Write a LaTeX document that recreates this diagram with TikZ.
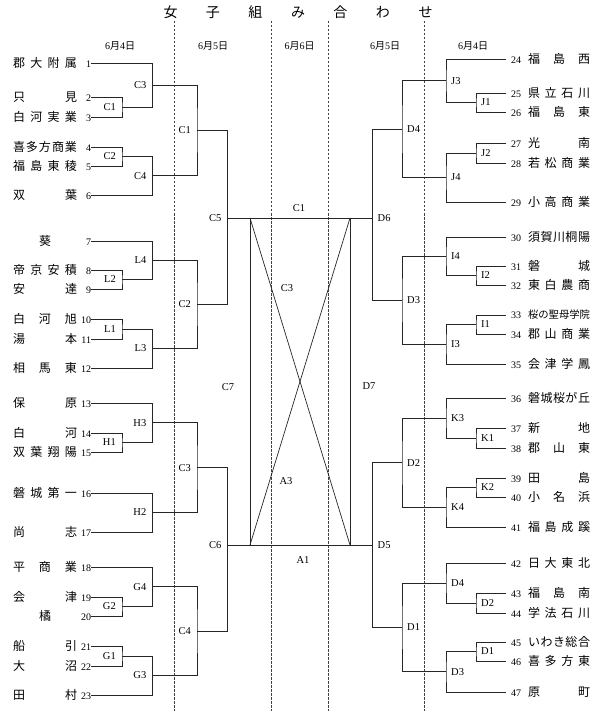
\documentclass[tikz,border=0pt]{standalone}
\usepackage{fontspec}
\usepackage{graphicx}
\setmainfont{Liberation Serif}
\newfontfamily\jp{Noto Sans CJK JP}
\usetikzlibrary{positioning}

% spread the characters of a name over a fixed width
\makeatletter
\def\sp@a#1#2\@nil{#1\ifx\relax#2\relax\else\hfill\sp@a#2\@nil\fi}
\newsavebox\nm@box
\newcommand\nm[2]{%
  \sbox\nm@box{\expandafter\sp@a#2\@nil}%
  \ifdim\wd\nm@box>#1\relax
    \resizebox{#1}{!}{\usebox\nm@box}%
  \else
    \makebox[#1][s]{\expandafter\sp@a#2\@nil}%
  \fi}
\makeatother
\newcommand{\mday}[2]{#1{\jp 月}#2{\jp 日}}
\newcommand{\lmatch}[4]{\coordinate (#1) at (#2,#3); \node[lab, left=6pt of #1] (#1-t) {#4};}
\newcommand{\rmatch}[4]{\coordinate (#1) at (#2,#3); \node[lab, right=5pt of #1] (#1-t) {#4};}

\begin{document}
\begin{tikzpicture}[x=1pt, y=-1pt,
  br/.style={line width=0.7pt, black!85},
  sep/.style={line width=0.6pt, black!75, dash pattern=on 2.5pt off 1.5pt},
  lab/.style={inner sep=0pt, font=\fontsize{10.5}{12}\selectfont},
  lteam/.style={anchor=east, inner sep=0pt, outer sep=0pt, font=\fontsize{12}{14}\selectfont},
  rteam/.style={anchor=west, inner sep=0pt, outer sep=0pt, font=\fontsize{12}{14}\selectfont},
  hdr/.style={inner sep=0pt, font=\fontsize{10}{12}\selectfont}]
\useasboundingbox (0,0) rectangle (601,711);

% title and days
\node[inner sep=0pt, font=\jp\fontsize{14}{16}\selectfont] (title) at (298,12) {\nm{269pt}{女子組み合わせ}};
\node[hdr] (hL4) at (120,46) {\mday{6}{4}};
\node[hdr] (hL5) at (213,46) {\mday{6}{5}};
\node[hdr] (hC6) at (299.5,46) {\mday{6}{6}};
\node[hdr] (hR5) at (385,46) {\mday{6}{5}};
\node[hdr] (hR4) at (473,46) {\mday{6}{4}};
\foreach \x in {174,271,328,424}
  \draw[sep] (\x,21) -- (\x,711);

% teams
\foreach \num/\ypos/\tn in {1/63/郡大附属, 2/97/只見, 3/117/白河実業, 4/147/喜多方商業,
    5/166/福島東稜, 6/195/双葉, 7/241/\hfill 葵\hfill, 8/270/帝京安積, 9/289/安達,
    10/319/白河旭, 11/339/湯本, 12/368/相馬東, 13/403/保原, 14/433/白河, 15/452/双葉翔陽,
    16/493/磐城第一, 17/532/尚志, 18/567/平商業, 19/597/会津, 20/616/\hfill 橘\hfill,
    21/646/船引, 22/666/大沼, 23/695/田村}
  \node[lteam] (t\num) at (91,\ypos) {{\jp\nm{64pt}{\tn}}\makebox[14pt][r]{\fontsize{10}{10}\selectfont\num}\hspace{5.5pt}};
\foreach \num/\ypos/\tn in {24/59/福島西, 25/93/県立石川, 26/112/福島東, 27/143/光南,
    28/163/若松商業, 29/202/小高商業, 30/237/須賀川桐陽, 31/266/磐城, 32/285/東白農商,
    33/315/桜の聖母学院, 34/334/郡山商業, 35/364/会津学鳳, 36/398/磐城桜が丘, 37/428/新地,
    38/448/郡山東, 39/478/田島, 40/497/小名浜, 41/527/福島成蹊, 42/563/日大東北,
    43/593/福島南, 44/613/学法石川, 45/642/いわき総合, 46/661/喜多方東, 47/692/原町}
  \node[rteam] (t\num) at (506,\ypos) {\hspace{5pt}\makebox[17pt][l]{\fontsize{10}{10}\selectfont\num}{\jp\nm{62pt}{\tn}}};

% left side
\lmatch{lbC1}{122}{107}{C1}
\lmatch{lbC2}{122}{156.5}{C2}
\lmatch{lbL2}{122}{279.5}{L2}
\lmatch{lbL1}{122}{329}{L1}
\lmatch{lbH1}{122}{442.5}{H1}
\lmatch{lbG2}{122}{606.5}{G2}
\lmatch{lbG1}{122}{656}{G1}
\lmatch{l1C3}{152.5}{85}{C3}
\lmatch{l1C4}{152.5}{175.75}{C4}
\lmatch{l1L4}{152.5}{260.25}{L4}
\lmatch{l1L3}{152.5}{348.5}{L3}
\lmatch{l1H3}{152.5}{422.75}{H3}
\lmatch{l1H2}{152.5}{512.5}{H2}
\lmatch{l1G4}{152.5}{586.75}{G4}
\lmatch{l1G3}{152.5}{675.5}{G3}
\lmatch{l2C1}{197}{130.4}{C1}
\lmatch{l2C2}{197}{304.4}{C2}
\lmatch{l2C3}{197}{467.6}{C3}
\lmatch{l2C4}{197}{631.1}{C4}
\lmatch{l3C5}{227.5}{218}{C5}
\lmatch{l3C6}{227.5}{545}{C6}

\draw[br] (t2.east) -| (lbC1) |- (t3.east);
\draw[br] (t4.east) -| (lbC2) |- (t5.east);
\draw[br] (t8.east) -| (lbL2) |- (t9.east);
\draw[br] (t10.east) -| (lbL1) |- (t11.east);
\draw[br] (t14.east) -| (lbH1) |- (t15.east);
\draw[br] (t19.east) -| (lbG2) |- (t20.east);
\draw[br] (t21.east) -| (lbG1) |- (t22.east);
\draw[br] (t1.east) -| (l1C3) |- (lbC1);
\draw[br] (lbC2) -| (l1C4) |- (t6.east);
\draw[br] (t7.east) -| (l1L4) |- (lbL2);
\draw[br] (lbL1) -| (l1L3) |- (t12.east);
\draw[br] (t13.east) -| (l1H3) |- (lbH1);
\draw[br] (t16.east) -| (l1H2) |- (t17.east);
\draw[br] (t18.east) -| (l1G4) |- (lbG2);
\draw[br] (lbG1) -| (l1G3) |- (t23.east);
\draw[br] (l1C3) -| (l2C1) |- (l1C4);
\draw[br] (l1L4) -| (l2C2) |- (l1L3);
\draw[br] (l1H3) -| (l2C3) |- (l1H2);
\draw[br] (l1G4) -| (l2C4) |- (l1G3);
\draw[br] (l2C1) -| (l3C5) |- (l2C2);
\draw[br] (l2C3) -| (l3C6) |- (l2C4);

% right side
\rmatch{rbJ1}{476}{102.5}{J1}
\rmatch{rbJ2}{476}{153}{J2}
\rmatch{rbI2}{476}{275.5}{I2}
\rmatch{rbI1}{476}{324.5}{I1}
\rmatch{rbK1}{476}{438}{K1}
\rmatch{rbK2}{476}{487.5}{K2}
\rmatch{rbD2}{476}{603}{D2}
\rmatch{rbD1}{476}{651.5}{D1}
\rmatch{r1J3}{446}{80.75}{J3}
\rmatch{r1J4}{446}{177.5}{J4}
\rmatch{r1I4}{446}{256.25}{I4}
\rmatch{r1I3}{446}{344.25}{I3}
\rmatch{r1K3}{446}{418}{K3}
\rmatch{r1K4}{446}{507.25}{K4}
\rmatch{r1D4}{446}{583}{D4}
\rmatch{r1D3}{446}{671.75}{D3}
\rmatch{r2D4}{402}{129.1}{D4}
\rmatch{r2D3}{402}{300.25}{D3}
\rmatch{r2D2}{402}{462.6}{D2}
\rmatch{r2D1}{402}{627.4}{D1}
\rmatch{r3D6}{372.5}{218}{D6}
\rmatch{r3D5}{372.5}{545}{D5}

\draw[br] (t25.west) -| (rbJ1) |- (t26.west);
\draw[br] (t27.west) -| (rbJ2) |- (t28.west);
\draw[br] (t31.west) -| (rbI2) |- (t32.west);
\draw[br] (t33.west) -| (rbI1) |- (t34.west);
\draw[br] (t37.west) -| (rbK1) |- (t38.west);
\draw[br] (t39.west) -| (rbK2) |- (t40.west);
\draw[br] (t43.west) -| (rbD2) |- (t44.west);
\draw[br] (t45.west) -| (rbD1) |- (t46.west);
\draw[br] (t24.west) -| (r1J3) |- (rbJ1);
\draw[br] (rbJ2) -| (r1J4) |- (t29.west);
\draw[br] (t30.west) -| (r1I4) |- (rbI2);
\draw[br] (rbI1) -| (r1I3) |- (t35.west);
\draw[br] (t36.west) -| (r1K3) |- (rbK1);
\draw[br] (rbK2) -| (r1K4) |- (t41.west);
\draw[br] (t42.west) -| (r1D4) |- (rbD2);
\draw[br] (rbD1) -| (r1D3) |- (t47.west);
\draw[br] (r1J3) -| (r2D4) |- (r1J4);
\draw[br] (r1I4) -| (r2D3) |- (r1I3);
\draw[br] (r1K3) -| (r2D2) |- (r1K4);
\draw[br] (r1D4) -| (r2D1) |- (r1D3);
\draw[br] (r2D4) -| (r3D6) |- (r2D3);
\draw[br] (r2D2) -| (r3D5) |- (r2D1);

% final
\coordinate (ftl) at (250,218);
\coordinate (ftr) at (350,218);
\coordinate (fbl) at (250,545);
\coordinate (fbr) at (350,545);
\draw[br] (l3C5) -- (r3D6);
\draw[br] (l3C6) -- (r3D5);
\draw[br] (ftl) -- (fbl);
\draw[br] (ftr) -- (fbr);
\draw[br] (ftl) -- (fbr);
\draw[br] (ftr) -- (fbl);
\node[lab] (fC1) at (299,208) {C1};
\node[lab] (fC3) at (287,288) {C3};
\node[lab] (fA3) at (286,481) {A3};
\node[lab] (fA1) at (303,560) {A1};
\node[lab] (fC7) at (228,387) {C7};
\node[lab] (fD7) at (369,386) {D7};
\end{tikzpicture}
\end{document}
